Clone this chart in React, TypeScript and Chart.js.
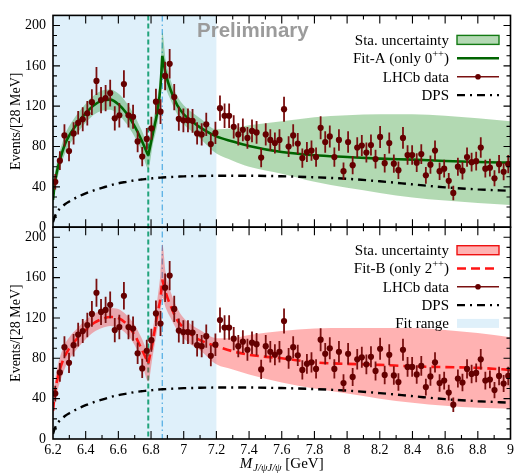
import { useEffect, useRef } from "react";
import { Chart, registerables } from "chart.js";

Chart.register(...registerables);

// ---------- data ----------
const binCentres = [
  6.214, 6.242, 6.27, 6.298, 6.326, 6.354, 6.382, 6.41, 6.438, 6.466,
  6.494, 6.522, 6.55, 6.578, 6.606, 6.634, 6.662, 6.69, 6.718, 6.746,
  6.774, 6.802, 6.83, 6.858, 6.886, 6.914, 6.942, 6.97, 6.998, 7.026,
  7.054, 7.082, 7.11, 7.138, 7.166, 7.194, 7.222, 7.25, 7.278, 7.306,
  7.334, 7.362, 7.39, 7.418, 7.446, 7.474, 7.502, 7.53, 7.558, 7.586,
  7.614, 7.642, 7.67, 7.698, 7.726, 7.754, 7.782, 7.81, 7.838, 7.866,
  7.894, 7.922, 7.95, 7.978, 8.006, 8.034, 8.062, 8.09, 8.118, 8.146,
  8.174, 8.202, 8.23, 8.258, 8.286, 8.314, 8.342, 8.37, 8.398, 8.426,
  8.454, 8.482, 8.51, 8.538, 8.566, 8.594, 8.622, 8.65, 8.678, 8.706,
  8.734, 8.762, 8.79, 8.818, 8.846, 8.874, 8.902, 8.93, 8.958, 8.986,
];
const lhcbCounts = [
  45, 66, 91, 75.5, 93, 103.5, 107, 113, 124, 145,
  126, 128, 133, 108, 111, 142, 111, 109.5, 85, 70,
  87.5, 98, 124.5, 114.5, 150, 162, 129, 107.5, 106, 106,
  105.5, 93, 92, 102, 82.5, 93.5, 118, 110.5, 110.5, 99.5,
  92, 96.5, 88.5, 95.5, 94, 69, 92, 86.5, 83.5, 86.5,
  117, 80, 91, 83, 68.5, 74.5, 76, 69.5, 98.5, 84.5,
  90, 69.5, 86.5, 55.5, 84.5, 61.5, 79, 81, 74, 81.5,
  67.5, 89.5, 63.5, 83.5, 63, 56.5, 88.5, 71.5, 71.5, 64,
  72.5, 51.5, 62, 76, 55.5, 58, 46, 34, 60, 56,
  69.5, 64.5, 65.5, 79, 58, 59, 48.5, 62.5, 55, 62.5,
];
const lhcbErrors = [
  7.7, 9.3, 11, 10, 11.1, 11.7, 11.9, 12.2, 12.8, 13.8,
  12.9, 13, 13.3, 12, 12.1, 13.7, 12.1, 12, 10.6, 9.6,
  10.8, 11.4, 12.8, 12.3, 14.1, 14.6, 13.1, 11.9, 11.8, 11.8,
  11.8, 11.1, 11, 11.6, 10.4, 11.1, 12.5, 12.1, 12.1, 11.5,
  11, 11.3, 10.8, 11.2, 11.2, 9.6, 11, 10.7, 10.5, 10.7,
  12.4, 10.3, 11, 10.5, 9.5, 9.9, 10, 9.6, 11.4, 10.6,
  10.9, 9.6, 10.7, 8.6, 10.6, 9, 10.2, 10.4, 9.9, 10.4,
  9.4, 10.9, 9.2, 10.5, 9.1, 8.6, 10.8, 9.7, 9.7, 9.2,
  9.8, 8.3, 9.1, 10, 8.6, 8.8, 7.8, 7.2, 8.9, 8.6,
  9.6, 9.2, 9.3, 10.2, 8.8, 8.8, 8, 9.1, 8.5, 9.1,
];

const curveMass = [
  6.2, 6.21, 6.225, 6.25, 6.275, 6.3, 6.35, 6.4, 6.45, 6.5,
  6.55, 6.6, 6.65, 6.7, 6.74, 6.783, 6.81, 6.84, 6.858, 6.869,
  6.89, 6.92, 6.96, 7.0, 7.05, 7.1, 7.2, 7.3, 7.4, 7.6,
  7.8, 8.0, 8.2, 8.4, 8.6, 8.8, 9.0,
];
const fitA = [
  27, 42, 56, 71, 83, 91, 103, 113, 121, 125.5,
  126.5, 122, 113, 100, 87, 71, 92, 116, 140, 170,
  152, 136, 121, 112, 105, 99, 90, 85, 80.5, 74.5,
  71.3, 69.6, 68, 67, 65.7, 64.7, 64,
];
const fitALow = [
  20, 33, 47, 62, 73.5, 81.5, 93.5, 103.5, 111.5, 115.5,
  116.5, 111.5, 102.5, 89.5, 77, 58, 81, 103, 126, 150,
  138, 126, 112, 102, 95, 88, 73, 66, 60, 53,
  45, 39, 34, 29.5, 26.5, 24, 22,
];
const fitAHigh = [
  35, 51, 65, 80, 92.5, 100.5, 112.5, 122.5, 130.5, 135.5,
  136.5, 132.5, 123.5, 110.5, 97, 84, 103, 129, 155, 193,
  166, 146, 130, 121, 114, 108, 97, 98, 101, 105,
  109, 111, 112, 112, 110.5, 108, 105,
];
const fitB = [
  28, 44, 58, 73, 83, 90, 100, 108, 115, 119,
  121, 120, 114, 103, 90, 75, 96, 125, 140, 158,
  145, 132, 118, 110, 103, 98, 92, 87, 83.5, 80,
  76, 74.5, 73.5, 72, 71.3, 70.5, 68.5,
];
const fitBLow = [
  18, 32, 46, 60, 71, 79, 90, 99, 106, 110,
  112, 110, 104, 93, 78, 57, 82, 110, 125, 140,
  130, 120, 108, 100, 93, 88, 74, 69, 64, 56,
  50, 45, 40, 36, 33, 31, 30,
];
const fitBHigh = [
  38, 55, 70, 85, 95, 101, 110, 118, 124, 128,
  130, 129, 123, 113, 101, 88, 108, 140, 165, 193,
  165, 146, 130, 120, 113, 108, 100, 100, 103, 107,
  109.5, 110, 110, 110, 108, 105, 101,
];
const dpsCurve = [
  5, 10, 15, 19.5, 23, 25.5, 30, 33.5, 36.5, 39,
  41.5, 43.5, 45, 46.5, 47.3, 48, 48.5, 49, 49.2, 49.3,
  49.5, 49.8, 50.1, 50.4, 50.6, 50.8, 51, 51, 51, 50.5,
  49.5, 48, 45.5, 42.5, 39.5, 37.5, 36,
];
const cuspMasses = [6.783, 6.869];
const thresholdGreen = 6.783;
const thresholdBlue = 6.869;
const fitRange = [6.2, 7.2];
const massRange = [6.2, 9.0];
const yRange = [0, 210];

// ---------- styling ----------
const SERIF = "'Liberation Serif', 'Times New Roman', serif";
const SANS = "'Liberation Sans', Arial, sans-serif";
const COL = {
  range: "rgb(223,240,250)",
  greenBand: "rgba(0,128,0,0.3)",
  greenBandLegend: "rgb(180,217,180)",
  greenLine: "#006400",
  greenEdge: "#137a13",
  redBand: "rgba(255,0,0,0.3)",
  redLine: "#ff1414",
  dot: "#650000",
  err: "#7a1010",
  vGreen: "#22a47c",
  vBlue: "#62b4e6",
};
const DPS_DASH = [8, 5, 2, 5];
const FITB_DASH = [9, 5];

type Pt = { x: number; y: number | null };
function withCusps(ys: number[]): Pt[] {
  const out: Pt[] = [];
  curveMass.forEach((m, i) => {
    out.push({ x: m, y: ys[i] });
    if (cuspMasses.includes(m)) {
      out.push({ x: m, y: null });
      out.push({ x: m, y: ys[i] });
    }
  });
  return out;
}
const plain = (ys: number[]): Pt[] => curveMass.map((m, i) => ({ x: m, y: ys[i] }));
const dataPts = (): Pt[] => binCentres.map((m, i) => ({ x: m, y: lhcbCounts[i] }));

function panelDatasets(axis: string, fit: number[], lo: number[], hi: number[], fitColor: string, dash: number[], band: string, baseIndex: number): any[] {
  return [
    { data: dataPts(), yAxisID: axis, showLine: false, pointRadius: 3.1, pointHoverRadius: 3.1, pointBackgroundColor: COL.dot, pointBorderWidth: 0, errorBars: true, order: 0 },
    { data: withCusps(fit), yAxisID: axis, borderColor: fitColor, borderWidth: 2.6, borderDash: dash, pointRadius: 0, cubicInterpolationMode: "monotone", spanGaps: false, fill: false, order: 1 },
    { data: plain(dpsCurve), yAxisID: axis, borderColor: "#000", borderWidth: 2.4, borderDash: DPS_DASH, pointRadius: 0, cubicInterpolationMode: "monotone", fill: false, order: 2 },
    { data: plain(lo), yAxisID: axis, borderColor: "rgba(0,0,0,0)", borderWidth: 0, pointRadius: 0, cubicInterpolationMode: "monotone", fill: false, order: 3 },
    { data: plain(hi), yAxisID: axis, borderColor: "rgba(0,0,0,0)", borderWidth: 0, pointRadius: 0, cubicInterpolationMode: "monotone", fill: baseIndex + 3, backgroundColor: band, order: 3 },
  ];
}

// ---------- drawing helpers ----------
function symbol(ctx: CanvasRenderingContext2D, kind: string, x0: number, x1: number, y: number) {
  ctx.save();
  ctx.setLineDash([]);
  if (kind === "greenBand" || kind === "redBand" || kind === "range") {
    const h = 9;
    ctx.fillStyle = kind === "greenBand" ? COL.greenBandLegend : kind === "redBand" ? "rgb(255,178,178)" : COL.range;
    ctx.fillRect(x0, y - h / 2, x1 - x0, h);
    if (kind !== "range") {
      ctx.strokeStyle = kind === "greenBand" ? COL.greenEdge : "#ee1111";
      ctx.lineWidth = 1.4;
      ctx.strokeRect(x0, y - h / 2, x1 - x0, h);
    }
  } else if (kind === "fitA") {
    ctx.strokeStyle = COL.greenLine; ctx.lineWidth = 2.6;
    ctx.beginPath(); ctx.moveTo(x0, y); ctx.lineTo(x1, y); ctx.stroke();
  } else if (kind === "fitB") {
    ctx.strokeStyle = COL.redLine; ctx.lineWidth = 2.6; ctx.setLineDash(FITB_DASH);
    ctx.beginPath(); ctx.moveTo(x0, y); ctx.lineTo(x1, y); ctx.stroke();
  } else if (kind === "dps") {
    ctx.strokeStyle = "#000"; ctx.lineWidth = 2.4; ctx.setLineDash(DPS_DASH);
    ctx.beginPath(); ctx.moveTo(x0, y); ctx.lineTo(x1, y); ctx.stroke();
  } else if (kind === "data") {
    ctx.strokeStyle = COL.err; ctx.lineWidth = 1.5;
    ctx.beginPath(); ctx.moveTo(x0, y); ctx.lineTo(x1, y); ctx.stroke();
    ctx.fillStyle = COL.dot;
    ctx.beginPath(); ctx.arc((x0 + x1) / 2, y, 2.8, 0, Math.PI * 2); ctx.fill();
  }
  ctx.restore();
}

type Entry = { text: string; sup?: string; tail?: string; kind: string };
const legendTop: Entry[] = [
  { text: "Sta. uncertainty", kind: "greenBand" },
  { text: "Fit-A (only 0", sup: "++", tail: ")", kind: "fitA" },
  { text: "LHCb data", kind: "data" },
  { text: "DPS", kind: "dps" },
];
const legendBottom: Entry[] = [
  { text: "Sta. uncertainty", kind: "redBand" },
  { text: "Fit-B (only 2", sup: "++", tail: ")", kind: "fitB" },
  { text: "LHCb data", kind: "data" },
  { text: "DPS", kind: "dps" },
  { text: "Fit range", kind: "range" },
];

function drawLegend(ctx: CanvasRenderingContext2D, entries: Entry[], textRight: number, symX0: number, symX1: number, y0: number, dy: number) {
  ctx.save();
  ctx.fillStyle = "#000";
  ctx.textBaseline = "middle";
  ctx.textAlign = "left";
  entries.forEach((e, i) => {
    const y = y0 + i * dy;
    const big = `15px ${SERIF}`;
    const small = `10.5px ${SERIF}`;
    ctx.font = big;
    const wMain = ctx.measureText(e.text).width;
    let wSup = 0, wTail = 0;
    if (e.sup) {
      ctx.font = small; wSup = ctx.measureText(e.sup).width;
      ctx.font = big; wTail = ctx.measureText(e.tail || "").width;
    }
    let x = textRight - (wMain + wSup + wTail);
    ctx.font = big;
    ctx.fillText(e.text, x, y + 1);
    x += wMain;
    if (e.sup) {
      ctx.font = small; ctx.fillText(e.sup, x, y - 4);
      x += wSup;
      ctx.font = big; ctx.fillText(e.tail || "", x, y + 1);
    }
    symbol(ctx, e.kind, symX0, symX1, y);
  });
  ctx.restore();
}

const backgroundPlugin = {
  id: "fitRangeBg",
  beforeDatasetsDraw(chart: any) {
    const { ctx, chartArea } = chart;
    const xs = chart.scales.x;
    const xa = xs.getPixelForValue(fitRange[0]);
    const xb = xs.getPixelForValue(fitRange[1]);
    ctx.save();
    ctx.fillStyle = COL.range;
    ctx.fillRect(xa, chartArea.top, xb - xa, chartArea.bottom - chartArea.top);
    const gx = xs.getPixelForValue(thresholdGreen);
    const bx = xs.getPixelForValue(thresholdBlue);
    ctx.lineWidth = 2;
    ctx.strokeStyle = COL.vGreen;
    ctx.setLineDash([5, 3]);
    ctx.beginPath(); ctx.moveTo(gx, chartArea.top); ctx.lineTo(gx, chartArea.bottom); ctx.stroke();
    ctx.lineWidth = 1.4;
    ctx.strokeStyle = COL.vBlue;
    ctx.setLineDash([6, 3, 1.5, 3]);
    ctx.beginPath(); ctx.moveTo(bx, chartArea.top); ctx.lineTo(bx, chartArea.bottom); ctx.stroke();
    ctx.restore();
  },
};

const errorBarPlugin = {
  id: "errorBars",
  beforeDatasetDraw(chart: any, args: any) {
    const ds = chart.data.datasets[args.index];
    if (!ds.errorBars) return;
    const ys = chart.scales[ds.yAxisID];
    const xs = chart.scales.x;
    const ctx = chart.ctx;
    ctx.save();
    ctx.strokeStyle = COL.err;
    ctx.lineWidth = 1.8;
    ctx.beginPath();
    binCentres.forEach((m, i) => {
      const px = xs.getPixelForValue(m);
      ctx.moveTo(px, ys.getPixelForValue(lhcbCounts[i] - lhcbErrors[i]));
      ctx.lineTo(px, ys.getPixelForValue(lhcbCounts[i] + lhcbErrors[i]));
    });
    ctx.stroke();
    ctx.restore();
  },
};

const framePlugin = {
  id: "frameTicksText",
  afterDatasetsDraw(chart: any) {
    const { ctx, chartArea } = chart;
    const xs = chart.scales.x;
    const L = chartArea.left, R = chartArea.right;
    ctx.save();
    ctx.strokeStyle = "#000";
    for (const id of ["yTop", "yBot"]) {
      const ys = chart.scales[id];
      const T = ys.top, B = ys.bottom;
      ctx.lineWidth = 1.1;
      ctx.beginPath();
      for (let v = yRange[0] + 10; v < yRange[1]; v += 10) {
        const py = ys.getPixelForValue(v);
        const len = v % 40 === 0 ? 7 : 4;
        ctx.moveTo(L, py); ctx.lineTo(L + len, py);
        ctx.moveTo(R, py); ctx.lineTo(R - len, py);
      }
      for (let k = 1; k < 28; k++) {
        const px = xs.getPixelForValue(massRange[0] + k * 0.1);
        const len = k % 2 === 0 ? 8 : 4;
        ctx.moveTo(px, T); ctx.lineTo(px, T + len);
        ctx.moveTo(px, B); ctx.lineTo(px, B - len);
      }
      ctx.stroke();
      ctx.lineWidth = 1.6;
      ctx.strokeRect(L, T, R - L, B - T);
    }
    ctx.restore();

    // Preliminary
    ctx.save();
    ctx.font = `bold 20.5px ${SANS}`;
    ctx.fillStyle = "#9b9b9b";
    ctx.textBaseline = "alphabetic";
    ctx.textAlign = "left";
    ctx.fillText("Preliminary", 197, 37);
    ctx.restore();

    const yTop = chart.scales.yTop, yBot = chart.scales.yBot;
    drawLegend(ctx, legendTop, 449, 457, 499, yTop.top + 24.5, 18.4);
    drawLegend(ctx, legendBottom, 449, 457, 499, yBot.top + 23, 18.3);

    // x-axis title: M_{J/ψJ/ψ} [GeV]
    ctx.save();
    ctx.fillStyle = "#000";
    ctx.textBaseline = "alphabetic";
    ctx.textAlign = "left";
    const fM = `italic 15px ${SERIF}`;
    const fSub = `italic 10.5px ${SERIF}`;
    const fN = `15px ${SERIF}`;
    ctx.font = fM; const wM = ctx.measureText("M").width;
    ctx.font = fSub; const wS = ctx.measureText("J/ψJ/ψ").width;
    ctx.font = fN; const wU = ctx.measureText(" [GeV]").width;
    const total = wM + wS + wU + 1;
    let x = (L + R) / 2 - total / 2;
    const base = 468;
    ctx.font = fM; ctx.fillText("M", x, base); x += wM + 1;
    ctx.font = fSub; ctx.fillText("J/ψJ/ψ", x, base + 3); x += wS;
    ctx.font = fN; ctx.fillText(" [GeV]", x, base);
    ctx.restore();
  },
};

function yAxis(): any {
  return {
    type: "linear",
    position: "left",
    stack: "panels",
    stackWeight: 1,
    min: yRange[0],
    max: yRange[1],
    grid: { display: false, drawTicks: false },
    border: { display: false },
    ticks: { stepSize: 40, includeBounds: false, color: "#000", padding: 7, font: { family: SERIF, size: 14 } },
    title: { display: true, text: "Events/[28 MeV]", color: "#000", font: { family: SERIF, size: 14 }, padding: { top: 8, bottom: 0 } },
    afterFit: (s: any) => { s.width = 53; },
  };
}

export default function App() {
  const ref = useRef<HTMLCanvasElement>(null);
  useEffect(() => {
    const canvas = ref.current;
    if (!canvas) return;
    const datasets = [
      ...panelDatasets("yTop", fitA, fitALow, fitAHigh, COL.greenLine, [], COL.greenBand, 0),
      ...panelDatasets("yBot", fitB, fitBLow, fitBHigh, COL.redLine, FITB_DASH, COL.redBand, 5),
    ];
    const chart = new Chart(canvas, {
      type: "line",
      data: { datasets },
      options: {
        responsive: false,
        animation: false,
        devicePixelRatio: 1,
        events: [],
        layout: { padding: { top: 7, right: 3, left: 0, bottom: 0 } },
        plugins: { legend: { display: false }, tooltip: { enabled: false }, title: { display: false } },
        scales: {
          x: {
            type: "linear",
            min: massRange[0],
            max: massRange[1],
            grid: { display: false, drawTicks: false },
            border: { display: false },
            ticks: {
              stepSize: 0.2,
              color: "#000",
              padding: 3,
              maxRotation: 0,
              autoSkip: false,
              font: { family: SERIF, size: 14 },
              callback: (v: any) => String(Math.round(Number(v) * 10) / 10),
            },
            afterFit: (s: any) => { s.height = 37; },
          },
          // Stacked scales: the last one listed is placed on top.
          yBot: yAxis(),
          yTop: yAxis(),
        },
      } as any,
      plugins: [backgroundPlugin, errorBarPlugin, framePlugin],
    } as any);
    return () => chart.destroy();
  }, []);
  return (
    <div style={{ position: "absolute", left: 0, top: 0, width: 517, height: 476, background: "#fff" }}>
      <canvas ref={ref} width={517} height={476} style={{ display: "block", width: 517, height: 476 }} />
    </div>
  );
}
